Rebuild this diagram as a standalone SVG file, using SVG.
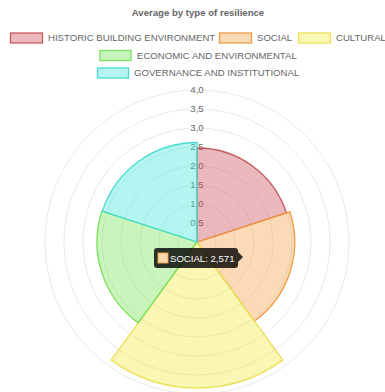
<svg xmlns="http://www.w3.org/2000/svg" width="385" height="392" viewBox="0 0 385 392">
<style>
text{font-family:"Liberation Sans",Arial,sans-serif;fill:#666;font-size:9.6px}
.title{font-weight:bold;text-anchor:middle}
.tick{text-anchor:middle}
.grid{fill:none;stroke:#e6e6e6;stroke-width:0.9}
.bd{fill:#fff;fill-opacity:0.75}
.red{fill:rgba(205,80,90,0.4);stroke:rgb(200,90,95)}
.org{fill:rgba(240,150,50,0.35);stroke:rgb(240,155,65)}
.yel{fill:rgba(240,230,40,0.35);stroke:rgb(235,225,90)}
.grn{fill:rgba(120,230,90,0.4);stroke:rgb(120,225,90)}
.cyn{fill:rgba(70,230,220,0.4);stroke:rgb(70,220,210)}
.seg path,.leg rect{stroke-width:1.3}
</style>
<rect width="385" height="392" fill="#fff"/>
<text class="title" x="198" y="15.5">Average by type of resilience</text>
<g id="legend" class="leg">
 <g id="leg-historic"><rect class="red" x="10.5" y="33" width="32" height="10"/><text x="48" y="41.4">HISTORIC BUILDING ENVIRONMENT</text></g>
 <g id="leg-social"><rect class="org" x="219.5" y="33" width="32" height="10"/><text x="257" y="41.4">SOCIAL</text></g>
 <g id="leg-cultural"><rect class="yel" x="298.5" y="33" width="32" height="10"/><text x="336" y="41.4">CULTURAL</text></g>
 <g id="leg-economic"><rect class="grn" x="100" y="50.5" width="31" height="10"/><text x="137" y="58.9">ECONOMIC AND ENVIRONMENTAL</text></g>
 <g id="leg-governance"><rect class="cyn" x="97.5" y="68" width="31" height="10"/><text x="134" y="76.4">GOVERNANCE AND INSTITUTIONAL</text></g>
</g>
<g id="scale">
 <circle class="grid" cx="197" cy="242" r="19"/>
 <circle class="grid" cx="197" cy="242" r="38"/>
 <circle class="grid" cx="197" cy="242" r="57"/>
 <circle class="grid" cx="197" cy="242" r="76"/>
 <circle class="grid" cx="197" cy="242" r="95"/>
 <circle class="grid" cx="197" cy="242" r="114"/>
 <circle class="grid" cx="197" cy="242" r="133"/>
 <circle class="grid" cx="197" cy="242" r="152"/>
 <rect class="bd" x="189" y="217" width="16" height="12"/>
 <rect class="bd" x="189" y="198" width="16" height="12"/>
 <rect class="bd" x="189" y="179" width="16" height="12"/>
 <rect class="bd" x="189" y="160" width="16" height="12"/>
 <rect class="bd" x="189" y="141" width="16" height="12"/>
 <rect class="bd" x="189" y="122" width="16" height="12"/>
 <rect class="bd" x="189" y="103" width="16" height="12"/>
 <rect class="bd" x="189" y="84" width="16" height="12"/>
 <text class="tick" x="197" y="226.4">0,5</text>
 <text class="tick" x="197" y="207.4">1,0</text>
 <text class="tick" x="197" y="188.4">1,5</text>
 <text class="tick" x="197" y="169.4">2,0</text>
 <text class="tick" x="197" y="150.4">2,5</text>
 <text class="tick" x="197" y="131.4">3,0</text>
 <text class="tick" x="197" y="112.4">3,5</text>
 <text class="tick" x="197" y="93.4">4,0</text>
</g>
<g id="segments" class="seg">
 <g id="seg-historic"><path class="red" d="M197,242 L197,148 A94,94 0 0 1 286.4,212.95 Z"/></g>
 <g id="seg-social"><path class="org" d="M197,242 L289.92,211.81 A97.7,97.7 0 0 1 254.43,321.04 Z"/></g>
 <g id="seg-cultural"><path class="yel" d="M197,242 L282.82,360.12 A146,146 0 0 1 111.18,360.12 Z"/></g>
 <g id="seg-economic"><path class="grn" d="M197,242 L138.22,322.9 A100,100 0 0 1 101.89,211.1 Z"/></g>
 <g id="seg-governance"><path class="cyn" d="M197,242 L102.38,211.25 A99.5,99.5 0 0 1 197,142.5 Z"/></g>
</g>
<g id="tooltip">
 <rect x="154" y="248" width="84" height="20" rx="3" fill="rgba(0,0,0,0.8)"/>
 <path d="M238,252 L243,257 L238,262 Z" fill="rgba(0,0,0,0.8)"/>
 <rect x="158" y="253" width="10" height="10" fill="rgb(248,218,178)" stroke="rgb(240,160,70)" stroke-width="1"/>
 <text x="170" y="261.5" style="fill:#fff">SOCIAL: 2,571</text>
</g>
</svg>
